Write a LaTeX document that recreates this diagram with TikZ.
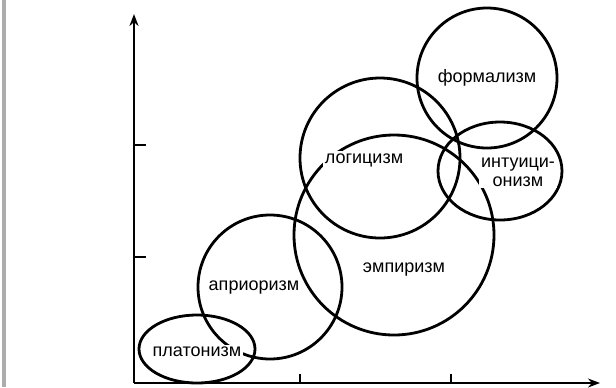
\documentclass[tikz,border=0pt]{standalone}
\usepackage{fontspec}
\setmainfont{Liberation Sans}
\usetikzlibrary{arrows.meta,shapes.geometric}

\begin{document}
\begin{tikzpicture}[
        x=0.5pt, y=-0.5pt,
        doctrine/.style={draw, line width=1.4pt, inner sep=0pt},
        school/.style={fill=white, inner sep=1pt, align=center,
                font=\fontsize{9}{9.5}\selectfont},
        axis/.style={line width=1pt, -{Stealth[length=6pt,width=4.5pt]}},
        tickmark/.style={line width=1pt}
    ]
    \useasboundingbox (0,0) rectangle (616,387);
    \fill[gray!65] (2,0) rectangle (6,387);

    % axes
    \coordinate (O) at (134,383);
    \coordinate (ytip) at (134,14);
    \coordinate (xtip) at (600,383);
    \draw[axis] (O) -- (ytip);
    \draw[axis] (O) -- (xtip);
    \foreach \y in {145,257}
        \draw[tickmark] (134,\y) -- (146,\y);
    \foreach \x in {300,451}
        \draw[tickmark] (\x,383) -- (\x,374);

    % doctrines
    \node[doctrine, circle, minimum size=70pt] (formalism) at (487,78) {};
    \node[doctrine, circle, minimum size=80pt] (logicism) at (380,158) {};
    \node[doctrine, circle, minimum size=100pt] (empiricism) at (394,235) {};
    \node[doctrine, ellipse, minimum width=62pt, minimum height=49pt] (intuitionism) at (500,171) {};
    \node[doctrine, circle, minimum size=72pt] (apriorism) at (270,287) {};
    \node[doctrine, ellipse, minimum width=58pt, minimum height=34pt] (platonism) at (197,349) {};

    % labels
    \node[school] (formalismLbl) at (487,78) {формализм};
    \node[school] (logicismLbl) at (364,160) {логицизм};
    \node[school] (intuitionismLbl) at (518,172) {интуици-\\онизм};
    \node[school] (empiricismLbl) at (404,270) {эмпиризм};
    \node[school] (apriorismLbl) at (254,288) {априоризм};
    \node[school] (platonismLbl) at (197,352) {платонизм};
\end{tikzpicture}
\end{document}
